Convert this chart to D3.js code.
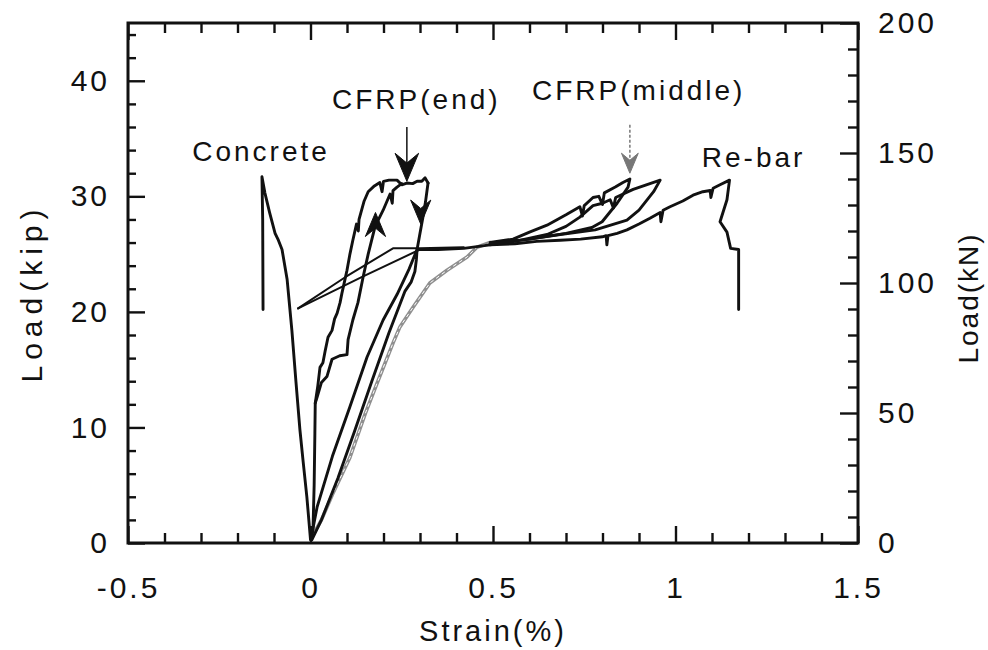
<!DOCTYPE html>
<html>
<head>
<meta charset="utf-8">
<script src="https://cdn.jsdelivr.net/npm/d3@7"></script>
<style>
  body { margin: 0; background: #fff; }
  text { font-family: "Liberation Sans", Arial, Helvetica, sans-serif; fill: #111; }
</style>
</head>
<body>
<div id="chart"></div>
<script>
// strain (%) vs load (kip)
const concrete = [
  [0.000, 0.3], [-0.010, 4.0], [-0.020, 7.0], [-0.029, 9.8], [-0.040, 14.0], [-0.051, 18.4],
  [-0.064, 22.8], [-0.078, 25.4], [-0.088, 26.2], [-0.097, 26.8], [-0.112, 28.6], [-0.125, 30.3],
  [-0.133, 31.7], [-0.131, 28.0], [-0.130, 20.2]
];

const cfrpEndOuter = [
  [0.003, 0.3], [0.007, 1.4], [0.010, 5.0], [0.012, 9.5], [0.013, 12.1], [0.020, 13.6], [0.026, 15.2],
  [0.034, 15.6], [0.040, 16.6], [0.048, 17.8], [0.059, 18.4], [0.066, 19.4], [0.073, 19.9], [0.081, 20.8],
  [0.086, 21.6], [0.093, 22.6], [0.100, 23.6], [0.108, 25.0], [0.116, 26.2], [0.126, 27.6], [0.131, 27.0],
  [0.133, 28.0], [0.147, 29.6], [0.158, 30.4], [0.175, 30.9], [0.190, 31.2], [0.196, 30.4], [0.200, 31.3],
  [0.215, 31.4], [0.237, 31.4], [0.250, 31.0], [0.264, 31.15], [0.280, 31.1], [0.292, 31.3],
  [0.305, 31.3], [0.314, 31.6], [0.322, 31.15]
];

const cfrpEndInner = [
  [0.013, 12.1], [0.018, 12.6], [0.030, 13.9], [0.045, 14.4], [0.059, 15.9], [0.080, 16.2], [0.100, 16.3],
  [0.103, 17.6], [0.116, 19.3], [0.130, 20.8], [0.144, 23.0], [0.158, 25.0], [0.177, 27.4],
  [0.199, 28.8], [0.218, 30.2], [0.224, 29.4], [0.226, 30.5], [0.237, 30.8], [0.250, 31.1]
];

const cfrpEndUnload = [
  [0.322, 31.15], [0.315, 29.5], [0.308, 28.2], [0.300, 26.8], [0.292, 25.4], [0.290, 24.5],
  [0.286, 23.5], [0.276, 22.6], [0.259, 21.8], [0.215, 18.2], [0.168, 14.0], [0.120, 9.6],
  [0.075, 5.6], [0.030, 2.0], [0.004, 0.3]
];

const rebar = [
  [0.001, 0.3], [0.018, 3.1], [0.060, 7.5], [0.108, 11.8], [0.155, 16.1], [0.199, 19.3], [0.237, 21.5],
  [0.270, 23.7], [0.292, 25.4], [0.350, 25.4], [0.420, 25.5], [0.492, 25.8], [0.560, 25.9],
  [0.620, 26.1], [0.684, 26.2], [0.740, 26.3], [0.800, 26.5], [0.810, 26.6], [0.812, 25.8],
  [0.815, 26.6], [0.840, 26.8], [0.867, 27.1], [0.900, 27.6], [0.930, 28.1], [0.958, 28.6],
  [0.960, 27.8], [0.966, 28.8], [0.985, 29.1], [1.020, 29.6], [1.048, 30.1], [1.075, 30.4],
  [1.095, 30.5], [1.097, 29.9], [1.103, 30.7], [1.122, 31.0], [1.148, 31.4], [1.141, 29.7],
  [1.122, 27.8], [1.141, 26.9], [1.151, 25.5], [1.173, 25.4], [1.173, 20.2]
];

const cfrpMidLower = [
  [0.007, 0.7], [0.030, 2.0], [0.060, 4.2], [0.108, 7.4], [0.150, 11.2], [0.182, 13.8], [0.226, 17.3],
  [0.245, 18.7], [0.281, 20.4], [0.327, 22.5], [0.374, 23.6], [0.429, 24.75], [0.456, 25.6], [0.492, 26.0]
];

const cfrpMidA = [
  [0.492, 26.0], [0.555, 26.3], [0.600, 26.9], [0.648, 27.5], [0.700, 28.4], [0.738, 29.1],
  [0.745, 28.3], [0.750, 29.2], [0.774, 29.9], [0.790, 30.0], [0.800, 29.3], [0.805, 30.3],
  [0.835, 30.8], [0.856, 31.2], [0.875, 31.5], [0.870, 30.8], [0.840, 29.4], [0.799, 27.8],
  [0.771, 27.3], [0.700, 26.8], [0.600, 26.3], [0.492, 25.9]
];

const cfrpMidB = [
  [0.492, 25.8], [0.560, 26.1], [0.648, 26.7], [0.700, 27.4], [0.738, 28.2], [0.774, 29.2],
  [0.800, 29.4], [0.821, 29.7], [0.830, 29.0], [0.836, 29.9], [0.884, 30.6], [0.920, 31.0],
  [0.958, 31.4], [0.940, 30.4], [0.900, 28.8], [0.867, 27.95], [0.780, 27.1], [0.684, 26.7],
  [0.600, 26.3], [0.492, 25.9]
];

const crossA = [[-0.034, 20.3], [0.095, 23.0], [0.226, 25.5], [0.300, 25.5], [0.420, 25.6]];
const crossB = [[-0.034, 20.3], [0.140, 23.0], [0.300, 25.4]];

const xTicks = [-0.5, 0, 0.5, 1, 1.5];
const xTickLabels = ["-0.5", "0", "0.5", "1", "1.5"];
const kipTicks = [0, 10, 20, 30, 40];
const kNTicks = [0, 50, 100, 150, 200];

// label text, anchor point in (strain, kip)
const labels = [
  { text: "Concrete", at: [-0.324, 33.1], color: "#111" },
  { text: "CFRP(end)", at: [0.059, 37.6], color: "#111" },
  { text: "CFRP(middle)", at: [0.607, 38.3], color: "#555" },
  { text: "Re-bar", at: [1.072, 32.5], color: "#111" }
];

const width = 988, height = 650;
const margin = { top: 23, right: 130, bottom: 107, left: 128 };

const svg = d3.select("#chart").append("svg")
  .attr("width", width)
  .attr("height", height);

const x = d3.scaleLinear().domain([-0.5, 1.5]).range([margin.left, width - margin.right]);
const yKip = d3.scaleLinear().domain([0, 45]).range([height - margin.bottom, margin.top]);
const yKN = d3.scaleLinear().domain([0, 200]).range([height - margin.bottom, margin.top]);

const xMinor = d3.range(0, 21).filter(i => i % 5 !== 0).map(i => -0.5 + i * 0.1);
const kipMinor = d3.range(0, 46, 2).filter(v => v % 10 !== 0);
const kNMinor = d3.range(0, 201, 10).filter(v => v % 50 !== 0);

const bottom = height - margin.bottom;
const right = width - margin.right;

function styleAxis(g) {
  g.select(".domain").remove();
  g.selectAll(".tick line").attr("stroke", "#111").attr("stroke-width", 2.4);
  g.selectAll(".tick text")
    .attr("fill", "#111")
    .style("font-size", "30px")
    .style("letter-spacing", "3px");
}

// bottom
svg.append("g").attr("transform", "translate(0," + bottom + ")")
  .call(d3.axisBottom(x).tickValues(xMinor).tickSize(-10).tickFormat(""))
  .call(styleAxis);
svg.append("g").attr("transform", "translate(0," + bottom + ")")
  .call(d3.axisBottom(x).tickValues(xTicks).tickSize(-17).tickPadding(34)
    .tickFormat((d, i) => xTickLabels[i]))
  .call(styleAxis);

// top
svg.append("g").attr("transform", "translate(0," + margin.top + ")")
  .call(d3.axisTop(x).tickValues(xMinor).tickSize(-10).tickFormat(""))
  .call(styleAxis);
svg.append("g").attr("transform", "translate(0," + margin.top + ")")
  .call(d3.axisTop(x).tickValues(xTicks).tickSize(-17).tickFormat(""))
  .call(styleAxis);

// left (kip)
svg.append("g").attr("transform", "translate(" + margin.left + ",0)")
  .call(d3.axisLeft(yKip).tickValues(kipMinor).tickSize(-8).tickFormat(""))
  .call(styleAxis);
svg.append("g").attr("transform", "translate(" + margin.left + ",0)")
  .call(d3.axisLeft(yKip).tickValues(kipTicks).tickSize(-17).tickPadding(18).tickFormat(d => String(d)))
  .call(styleAxis);

// right (kN)
svg.append("g").attr("transform", "translate(" + right + ",0)")
  .call(d3.axisRight(yKN).tickValues(kNMinor).tickSize(-10).tickFormat(""))
  .call(styleAxis);
svg.append("g").attr("transform", "translate(" + right + ",0)")
  .call(d3.axisRight(yKN).tickValues(kNTicks).tickSize(-18).tickPadding(20).tickFormat(d => String(d)))
  .call(styleAxis);

// frame
svg.append("rect")
  .attr("x", margin.left).attr("y", margin.top)
  .attr("width", right - margin.left).attr("height", bottom - margin.top)
  .attr("fill", "none").attr("stroke", "#111").attr("stroke-width", 3);

// axis titles
svg.append("text")
  .attr("x", (margin.left + right) / 2).attr("y", 641)
  .attr("text-anchor", "middle")
  .style("font-size", "29px").style("letter-spacing", "3px")
  .text("Strain(%)");

svg.append("text")
  .attr("transform", "translate(42," + ((margin.top + bottom) / 2 + 10) + ") rotate(-90)")
  .attr("text-anchor", "middle")
  .style("font-size", "30px").style("letter-spacing", "6px")
  .text("Load(kip)");

svg.append("text")
  .attr("transform", "translate(978," + ((margin.top + bottom) / 2 + 15) + ") rotate(-90)")
  .attr("text-anchor", "middle")
  .style("font-size", "28px").style("letter-spacing", "2px")
  .text("Load(kN)");

// curves
const line = d3.line().x(d => x(d[0])).y(d => yKip(d[1]));

const plot = svg.append("g")
  .attr("fill", "none")
  .attr("stroke-linejoin", "round")
  .attr("stroke-linecap", "round");

// CFRP(middle) gauge, printed as a speckled grey trace
plot.append("path").datum(cfrpMidLower)
  .attr("d", line).attr("stroke", "#8f8f8f").attr("stroke-width", 3.6);
plot.append("path").datum(cfrpMidLower)
  .attr("d", line).attr("stroke", "#fff").attr("stroke-width", 1)
  .attr("stroke-dasharray", "3,4");

[crossA, crossB].forEach(s => {
  plot.append("path").datum(s).attr("d", line).attr("stroke", "#111").attr("stroke-width", 2);
});

[concrete, cfrpEndOuter, cfrpEndInner, cfrpEndUnload, rebar, cfrpMidA, cfrpMidB].forEach(s => {
  plot.append("path").datum(s).attr("d", line).attr("stroke", "#111").attr("stroke-width", 2.9);
});

// arrows
function arrowHead(g, px, py, size, rot, color) {
  const w = size * 0.42, h = size, n = size * 0.65;
  g.append("path")
    .attr("d", "M0,0 L" + (-w) + "," + (-h) + " L0," + (-n) + " L" + w + "," + (-h) + " Z")
    .attr("transform", "translate(" + px + "," + py + ") rotate(" + rot + ")")
    .attr("fill", color).attr("stroke", color).attr("stroke-width", 1);
}

const ann = svg.append("g");

// CFRP(end) pointer
ann.append("line")
  .attr("x1", x(0.264)).attr("x2", x(0.264))
  .attr("y1", yKip(36.0)).attr("y2", yKip(32.5))
  .attr("stroke", "#111").attr("stroke-width", 1.5);
arrowHead(ann, x(0.264), yKip(31.3), 28, 0, "#111");

// direction arrows on the loop
arrowHead(ann, x(0.302), yKip(27.6), 24, 0, "#111");
arrowHead(ann, x(0.178), yKip(28.6), 24, 180, "#111");

// CFRP(middle) pointer
ann.append("line")
  .attr("x1", x(0.875)).attr("x2", x(0.875))
  .attr("y1", yKip(36.2)).attr("y2", yKip(33.0))
  .attr("stroke", "#777").attr("stroke-width", 1.5)
  .attr("stroke-dasharray", "3,2");
arrowHead(ann, x(0.875), yKip(32.0), 20, 0, "#777");

// labels
svg.append("g").selectAll("text")
  .data(labels)
  .join("text")
  .attr("x", d => x(d.at[0]))
  .attr("y", d => yKip(d.at[1]))
  .style("font-size", "28px")
  .style("letter-spacing", "3px")
  .attr("fill", d => d.color)
  .text(d => d.text);
</script>
</body>
</html>
